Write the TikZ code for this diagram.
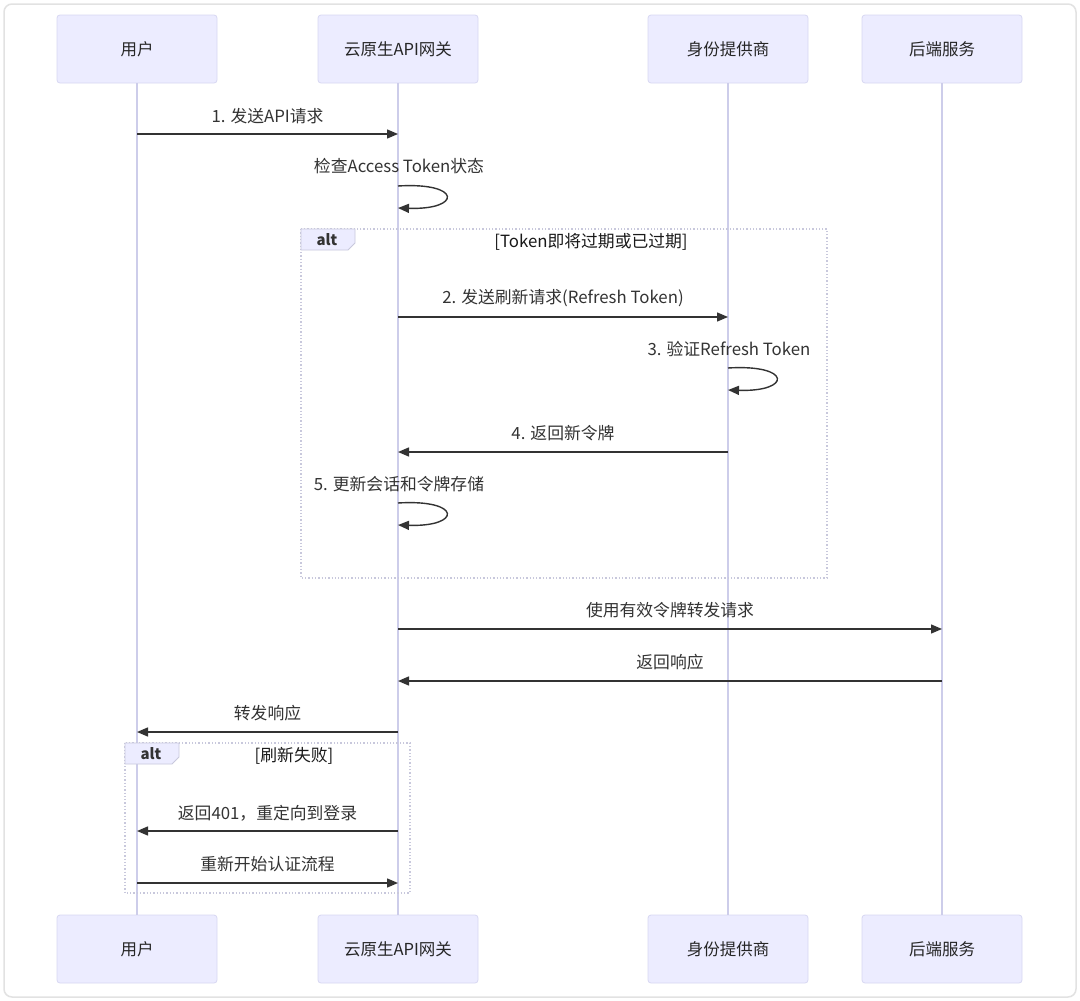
\documentclass[tikz,border=0pt]{standalone}
\usepackage{fontspec}
\setmainfont{Noto Sans CJK SC}
\usetikzlibrary{arrows.meta}
\definecolor{actfill}{HTML}{ECECFF}
\definecolor{actdraw}{HTML}{D8D8F2}
\definecolor{life}{HTML}{CDCDEA}
\definecolor{ink}{HTML}{333333}
\definecolor{altdraw}{HTML}{C8C8DC}
\definecolor{frame}{HTML}{E2E2E2}
\begin{document}
\begin{tikzpicture}[x=1pt,y=-1pt,
  actor/.style={draw=actdraw, fill=actfill, rounded corners=3pt, minimum width=160pt, minimum height=68pt, font=\fontsize{16.5}{20}\selectfont, text=black!85, line width=0.8pt},
  lifeline/.style={draw=life, line width=1.3pt},
  msg/.style={draw=ink, line width=1.4pt, -{Triangle[length=11pt,width=9pt]}},
  lbl/.style={font=\fontsize{16.8}{20}\selectfont, text=ink, inner sep=0pt},
  altbox/.style={draw=altdraw, dotted, line width=1.3pt},
  alttab/.style={draw=altdraw, fill=actfill, line width=0.8pt},
  altlbl/.style={font=\fontsize{15}{18}\selectfont\bfseries, text=ink, inner sep=0pt},
  condlbl/.style={font=\fontsize{16.8}{20}\selectfont, text=black!90, inner sep=0pt}
]
\useasboundingbox (0,0) rectangle (1080,1001);
\fill[white] (0,0) rectangle (1080,1001);
\draw[draw=frame, line width=1.5pt, rounded corners=8pt, fill=white] (4,4) rectangle (1076,997);

% participants
\node[actor] (u1) at (137,49) {用户};
\node[actor] (g1) at (398,49) {云原生API网关};
\node[actor] (i1) at (728,49) {身份提供商};
\node[actor] (b1) at (942,49) {后端服务};
\node[actor] (u2) at (137,949) {用户};
\node[actor] (g2) at (398,949) {云原生API网关};
\node[actor] (i2) at (728,949) {身份提供商};
\node[actor] (b2) at (942,949) {后端服务};

% lifelines
\draw[lifeline] (u1.south) -- (u2.north);
\draw[lifeline] (g1.south) -- (g2.north);
\draw[lifeline] (i1.south) -- (i2.north);
\draw[lifeline] (b1.south) -- (b2.north);

% alt box 1
\draw[altbox] (301,229) rectangle (827,578);
\draw[alttab] (301,229) -- (355,229) -- (355,243) -- (348,250) -- (301,250) -- cycle;
\node[altlbl] (alt1) at (327,240) {alt};
\node[condlbl] (cond1) at (591,242) {[Token即将过期或已过期]};

% alt box 2
\draw[altbox] (125,743) rectangle (410,893);
\draw[alttab] (125,743) -- (179,743) -- (179,757) -- (172,764) -- (125,764) -- cycle;
\node[altlbl] (alt2) at (151,754) {alt};
\node[condlbl] (cond2) at (294,756) {[刷新失败]};

% messages
\draw[msg] (u1 |- 0,134) -- node[lbl, midway, yshift=18pt] {1. 发送API请求} (g1 |- 0,134);

\node[lbl] (t2) at (399,166) {检查Access Token状态};
\draw[msg] (g1 |- 0,186) .. controls +(64,-4) and +(64,2) .. (g1 |- 0,208);

\draw[msg] (g1 |- 0,317) -- node[lbl, midway, yshift=19pt] {2. 发送刷新请求(Refresh Token)} (i1 |- 0,317);

\node[lbl] (t3) at (729,349) {3. 验证Refresh Token};
\draw[msg] (i1 |- 0,368) .. controls +(64,-4) and +(64,2) .. (i1 |- 0,390);

\draw[msg] (i1 |- 0,452) -- node[lbl, midway, yshift=19pt] {4. 返回新令牌} (g1 |- 0,452);

\node[lbl] (t5) at (399,484) {5. 更新会话和令牌存储};
\draw[msg] (g1 |- 0,503) .. controls +(64,-4) and +(64,2) .. (g1 |- 0,525);

\draw[msg] (g1 |- 0,629) -- node[lbl, midway, yshift=19pt] {使用有效令牌转发请求} (b1 |- 0,629);
\draw[msg] (b1 |- 0,681) -- node[lbl, midway, yshift=19pt] {返回响应} (g1 |- 0,681);
\draw[msg] (g1 |- 0,732) -- node[lbl, midway, yshift=19pt] {转发响应} (u1 |- 0,732);
\draw[msg] (g1 |- 0,831) -- node[lbl, midway, yshift=18pt] {返回401，重定向到登录} (u1 |- 0,831);
\draw[msg] (u1 |- 0,883) -- node[lbl, midway, yshift=19pt] {重新开始认证流程} (g1 |- 0,883);
\end{tikzpicture}
\end{document}
